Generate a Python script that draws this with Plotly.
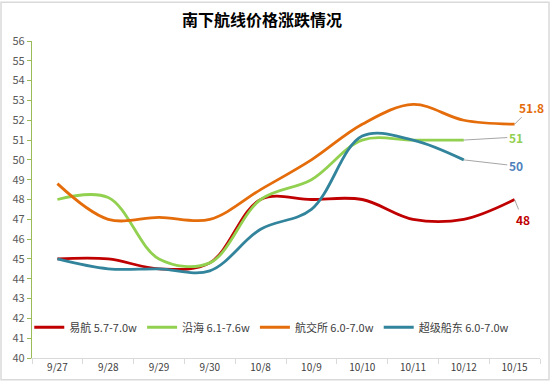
import plotly.graph_objects as go

categories = ["9/27", "9/28", "9/29", "9/30", "10/8", "10/9", "10/10", "10/11", "10/12", "10/15"]
yihang = [45, 45, 44.5, 44.8, 48, 48, 48, 47, 47, 48]
yanhai = [48, 48.1, 45, 44.8, 48, 49, 51, 51, 51, None]
hangjiaosuo = [48.8, 47, 47.1, 47, 48.5, 50, 51.8, 52.8, 52, 51.8]
chaoji = [45, 44.5, 44.5, 44.4, 46.5, 47.5, 51.2, 51, 50, None]

names = ["易航 5.7-7.0w", "沿海 6.1-7.6w", "航交所 6.0-7.0w", "超级船东 6.0-7.0w"]
colors = ["#C00000", "#92D050", "#E46C0A", "#31849B"]
series = [yihang, yanhai, hangjiaosuo, chaoji]

font = "Noto Sans CJK SC"
fig = go.Figure()
for n, c, s in zip(names, colors, series):
    fig.add_trace(go.Scatter(x=categories, y=s, name=n, mode="lines",
                             line=dict(color=c, width=2.8, shape="spline", smoothing=1.0),
                             connectgaps=False))

# end labels
labels = [
    ("10/15", 48, "48", "#C00000", 8, 20),
    ("10/12", 51, "51", "#92D050", 52, -3),
    ("10/12", 50, "50", "#4F81BD", 52, 6),
    ("10/15", 51.8, "51.8", "#E46C0A", 17, -17),
]
for xv, yv, t, c, ax, ay in labels:
    fig.add_annotation(x=xv, y=yv, text="<b>%s</b>" % t, showarrow=True, arrowhead=0,
                       arrowwidth=1, arrowcolor="#A6A6A6", ax=ax, ay=ay, standoff=0,
                       font=dict(color=c, size=12, family=font))

fig.add_shape(type="rect", xref="paper", yref="paper", x0=-0.061, x1=1.0177,
              y0=-0.069, y1=1.122, line=dict(color="#D9D9D9", width=1.5))

fig.update_layout(
    width=551, height=385,
    margin=dict(l=32, r=11, t=41, b=24),
    paper_bgcolor="white", plot_bgcolor="white",
    title=dict(text="<b>南下航线价格涨跌情况</b>", x=262 / 551, xanchor="center", y=1 - 20 / 385,
               yanchor="middle", font=dict(size=16, color="#000000", family=font)),
    font=dict(family=font, color="#595959"),
    showlegend=True,
    legend=dict(orientation="h", x=0.472, xanchor="center", y=0.097, yanchor="middle",
                font=dict(size=11, color="#404040", family=font), bgcolor="rgba(0,0,0,0)",
                itemwidth=30, tracegroupgap=0),
    xaxis=dict(type="category", range=[-0.5, 9.5], showgrid=False, showline=True,
               linecolor="#D9D9D9", linewidth=1, ticks="outside", tickson="boundaries",
               ticklen=5, tickcolor="#D9D9D9", tickfont=dict(size=10, color="#404040")),
    yaxis=dict(range=[40, 56], dtick=1, showgrid=False, showline=True, linecolor="#9BBB59",
               linewidth=1.2, ticks="outside", ticklen=4, tickcolor="#9BBB59",
               tickfont=dict(size=11, color="#595959"), zeroline=False),
)

fig.write_html("out.html", config={"displayModeBar": False},
               post_script="document.body.style.margin='0';")
